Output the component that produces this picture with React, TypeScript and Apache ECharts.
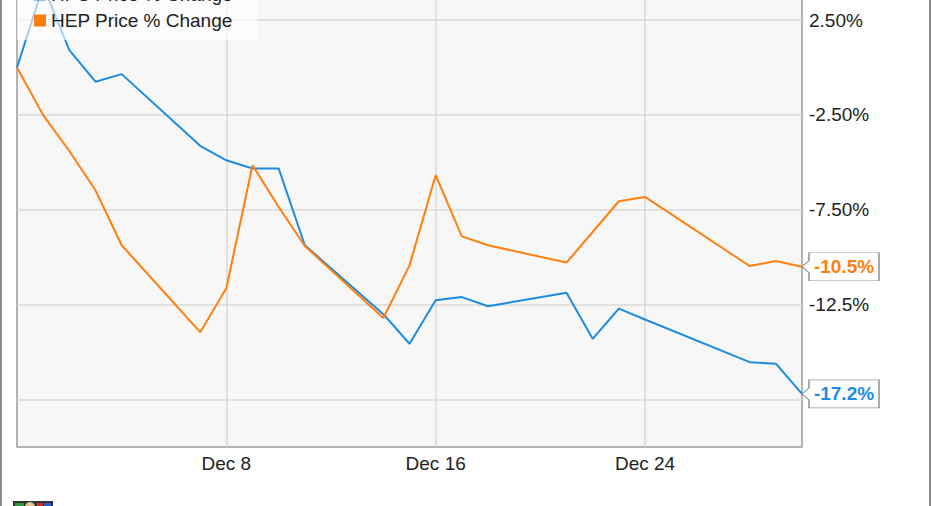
import React, { useEffect, useRef } from "react";
import * as echarts from "echarts";

// Trading days (Nov 30 – Dec 30, 2015)
const dates: string[] = [
  "2015-11-30", "2015-12-01", "2015-12-02", "2015-12-03", "2015-12-04",
  "2015-12-07", "2015-12-08", "2015-12-09", "2015-12-10", "2015-12-11",
  "2015-12-14", "2015-12-15", "2015-12-16", "2015-12-17", "2015-12-18",
  "2015-12-21", "2015-12-22", "2015-12-23", "2015-12-24",
  "2015-12-28", "2015-12-29", "2015-12-30",
];

const hfcName = "HFC Price % Change";
const hepName = "HEP Price % Change";

const hfcValues: number[] = [
  0, 4.3, 0.92, -0.75, -0.35,
  -4.13, -4.89, -5.32, -5.32, -9.37,
  -13.0, -14.56, -12.27, -12.1, -12.58,
  -11.87, -14.3, -12.71, -13.28,
  -15.53, -15.61, -17.2,
];

const hepValues: number[] = [
  0, -2.51, -4.4, -6.47, -9.37,
  -13.95, -11.64, -5.15, -7.35, -9.41,
  -13.2, -10.43, -5.68, -8.9, -9.37,
  -10.28, -8.67, -7.05, -6.82,
  -10.46, -10.2, -10.5,
];

// gridlines at every 5% (offset by 2.5); the -17.5% label is hidden behind the end label in the reference
const yGridValues: number[] = [2.5, -2.5, -7.5, -12.5, -17.5];
const yLabelValues: number[] = [2.5, -2.5, -7.5, -12.5];
const xTickDates: string[] = ["2015-12-08", "2015-12-16", "2015-12-24"];

const BLUE = "#1c8ce3";
const ORANGE = "#ff7f0e";
const FONT = 'Arial, "Liberation Sans", sans-serif';
const MONTHS = ["Jan", "Feb", "Mar", "Apr", "May", "Jun", "Jul", "Aug", "Sep", "Oct", "Nov", "Dec"];

const DAY = 86400000;
const baseTime = Date.UTC(2015, 10, 30);
function dayIndex(s: string): number {
  const [y, m, d] = s.split("-").map(Number);
  return Math.round((Date.UTC(y, m - 1, d) - baseTime) / DAY);
}
function dayLabel(v: number): string {
  const dt = new Date(baseTime + v * DAY);
  return MONTHS[dt.getUTCMonth()] + " " + dt.getUTCDate();
}
function pctLabel(v: number): string {
  const a = Math.abs(v);
  return (a >= 10 ? v.toFixed(1) : v.toFixed(2)) + "%";
}

const xTicks = xTickDates.map(dayIndex);
const lastX = dayIndex(dates[dates.length - 1]);

const OFFSET = 60; // chart is cropped at the top in the reference
const W = 931;
const H = 506 + OFFSET;

function makeSeries(name: string, values: number[], color: string) {
  const data = dates.map((d, i) => [dayIndex(d), values[i]]);
  const last = values[values.length - 1];
  return {
    name,
    type: "line",
    data,
    showSymbol: false,
    symbol: "none",
    lineStyle: { color, width: 2 },
    itemStyle: { color },
    markPoint: {
      symbol: "path://M0,14 L7,8 L7,0 L77,0 L77,28 L7,28 L7,20 Z",
      symbolSize: [77, 28],
      symbolKeepAspect: false,
      symbolOffset: [38.5, 0],
      itemStyle: { color: "#ffffff", borderColor: "#9a9a9a", borderWidth: 1 },
      label: {
        show: true,
        position: "inside",
        offset: [3.5, 0],
        color,
        fontWeight: "bold",
        fontSize: 19,
        fontFamily: FONT,
        formatter: (p: any) => Number(p.value).toFixed(1) + "%",
      },
      data: [{ coord: [lastX, last], value: last }],
      z: 10,
    },
  };
}

export default function App() {
  const ref = useRef<HTMLDivElement>(null);
  useEffect(() => {
    document.body.style.overflow = "hidden";
    const chart = echarts.init(ref.current!, undefined, { renderer: "svg" });
    chart.setOption({
      animation: false,
      backgroundColor: "#ffffff",
      textStyle: { fontFamily: FONT },
      grid: {
        show: true,
        left: 17,
        right: 129,
        top: OFFSET - 27.4,
        bottom: H - (447 + OFFSET),
        backgroundColor: "#f7f7f7",
        borderColor: "#9a9a9a",
        borderWidth: 1.5,
        containLabel: false,
      },
      legend: {
        orient: "vertical",
        left: 17,
        top: OFFSET - 25,
        padding: [10, 25, 10, 17],
        itemWidth: 12,
        itemHeight: 12,
        itemGap: 7,
        icon: "rect",
        backgroundColor: "rgba(255,255,255,0.6)",
        textStyle: { fontSize: 19, color: "#222", fontFamily: FONT },
        data: [hfcName, hepName],
      },
      xAxis: {
        type: "value",
        min: 0,
        max: lastX,
        interval: 8,
        axisLine: { show: false },
        axisTick: { show: false, customValues: xTicks },
        axisLabel: {
          customValues: xTicks,
          formatter: (v: number) => dayLabel(v),
          fontSize: 19,
          color: "#222",
          margin: 7,
          fontFamily: FONT,
        },
        splitLine: { show: true, lineStyle: { color: "#dadada", width: 1.5 } },
      },
      yAxis: {
        type: "value",
        position: "right",
        min: -20,
        max: 5,
        axisLine: { show: false },
        axisTick: { show: false, customValues: yGridValues },
        axisLabel: {
          customValues: yLabelValues,
          formatter: (v: number) => pctLabel(v),
          fontSize: 19,
          color: "#222",
          margin: 7,
          fontFamily: FONT,
        },
        splitLine: { show: true, lineStyle: { color: "#dadada", width: 1.5 } },
      },
      graphic: [
        { type: "line", shape: { x1: 1, y1: 0, x2: 1, y2: H }, style: { stroke: "#8a8a8a", lineWidth: 2 } },
        { type: "line", shape: { x1: 930, y1: 0, x2: 930, y2: H }, style: { stroke: "#8a8a8a", lineWidth: 2 } },
        {
          type: "group",
          left: 13,
          top: H - 5,
          children: [
            { type: "rect", shape: { x: 0, y: 0, width: 40, height: 10 }, style: { fill: "#333" } },
            { type: "rect", shape: { x: 2, y: 2, width: 9, height: 8 }, style: { fill: "#2e9a3c" } },
            { type: "circle", shape: { cx: 17, cy: 6, r: 5 }, style: { fill: "#e3c98e" } },
            { type: "rect", shape: { x: 24, y: 2, width: 6, height: 8 }, style: { fill: "#d42a2a" } },
            { type: "rect", shape: { x: 31, y: 2, width: 7, height: 8 }, style: { fill: "#2a5fc4" } },
          ],
        },
      ],
      series: [makeSeries(hfcName, hfcValues, BLUE), makeSeries(hepName, hepValues, ORANGE)],
    });
    return () => chart.dispose();
  }, []);
  return (
    <div
      ref={ref}
      style={{ position: "fixed", left: 0, top: -OFFSET, width: W, height: H }}
    />
  );
}
